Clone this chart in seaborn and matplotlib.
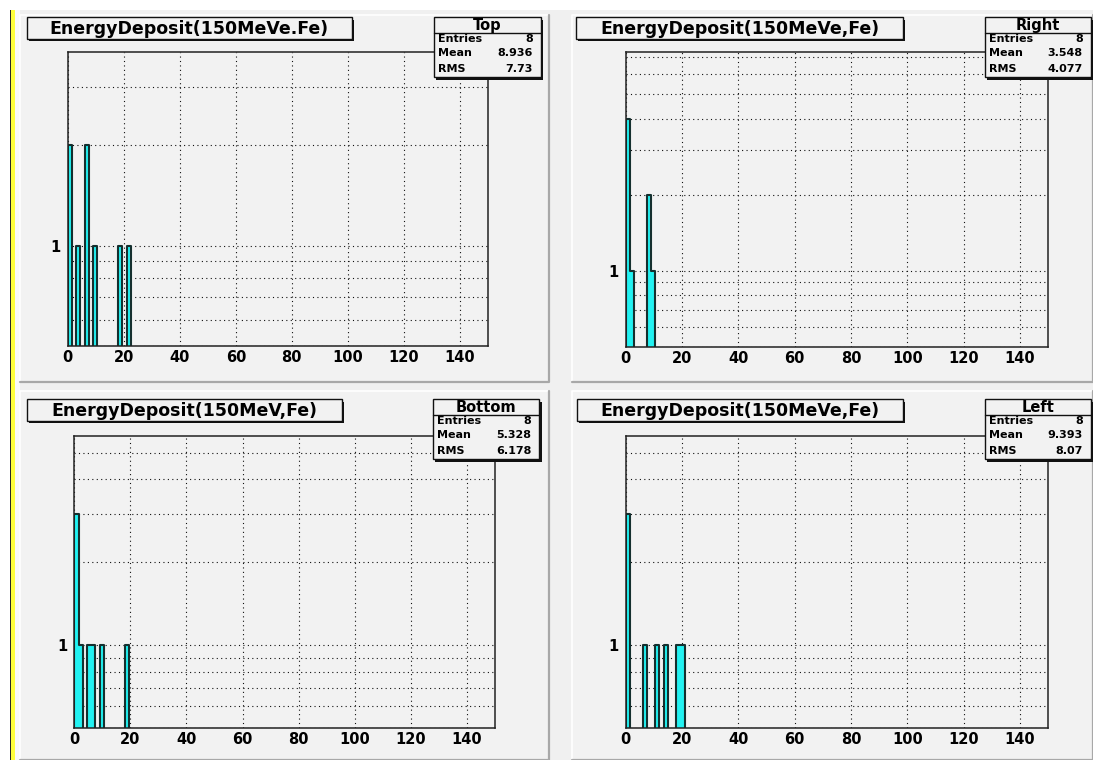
import numpy as np
import pandas as pd
import matplotlib
matplotlib.use("Agg")
import matplotlib.pyplot as plt
import seaborn as sns
from matplotlib import transforms as mtrans
from matplotlib.patches import Rectangle
from matplotlib.lines import Line2D
from matplotlib.ticker import MultipleLocator, FixedLocator, LogLocator, NullFormatter, FixedFormatter

# ---- histogram contents: bin centres (MeV) and entries per bin ----
top_centers = [0.75, 3.75, 6.75, 9.75, 18.75, 21.75]
top_counts = [2, 1, 2, 1, 1, 1]
right_centers = [0.75, 2.25, 8.25, 9.75]
right_counts = [4, 1, 2, 1]
bottom_centers = [0.75, 2.25, 5.25, 6.75, 9.75, 18.75]
bottom_counts = [3, 1, 1, 1, 1, 1]
left_centers = [0.75, 6.75, 11.25, 14.25, 18.75, 20.25]
left_counts = [3, 1, 1, 1, 1, 1]

titles = ["EnergyDeposit(150MeVe.Fe)", "EnergyDeposit(150MeVe,Fe)",
          "EnergyDeposit(150MeV,Fe)", "EnergyDeposit(150MeVe,Fe)"]
stat_names = ["Top", "Right", "Bottom", "Left"]
stat_entries = ["8", "8", "8", "8"]
stat_means = ["8.936", "3.548", "5.328", "9.393"]
stat_rms = ["7.73", "4.077", "6.178", "8.07"]
x_ticks = [0, 20, 40, 60, 80, 100, 120, 140]
x_tick_labels = ["0", "20", "40", "60", "80", "100", "120", "140"]

series = [(top_centers, top_counts), (right_centers, right_counts),
          (bottom_centers, bottom_counts), (left_centers, left_counts)]

# ---- pad geometry in canvas pixels (x0, x1, y0, y1), y measured downwards ----
frames = [(67.7, 488, 52, 346), (625.7, 1048, 52.3, 346.7),
          (74.3, 495, 435.7, 727.7), (625.7, 1048, 435.7, 728)]
y_tops = [3.81, 7.33, 5.77, 5.77]
title_boxes = [(26.7, 352, 17.3, 39), (576, 903, 17.3, 39),
               (26.7, 342, 399.3, 420.7), (577, 903, 399.3, 420.7)]
stat_boxes = [(434, 540.7, 17.3, 77.3), (985, 1090.7, 17.3, 77.3),
              (433, 539.3, 399.3, 459.3), (985, 1090.7, 399.3, 459.3)]
pads = [(20, 549, 15, 382), (572, 1093, 15, 382),
        (20, 549, 391, 760), (572, 1093, 391, 760)]

W, H = 1093, 760
CANVAS = "#f0f0f0"
PAD = "#f2f2f2"
CYAN = "#22f2f2"
EDGE = "#15302f"

sns.set_theme(style="white")
plt.rcParams["font.family"] = ["DejaVu Sans"]
plt.rcParams["font.weight"] = "bold"
plt.rcParams["text.color"] = "black"

fig = plt.figure(figsize=(W / 100, H / 100), dpi=100)
fig.patch.set_facecolor("white")
PX = mtrans.Affine2D().scale(0.01, -0.01).translate(0, H / 100) + fig.dpi_scale_trans


def rect(x0, x1, y0, y1, z, **kw):
    r = Rectangle((x0, y0), x1 - x0, y1 - y0, transform=PX, zorder=z, **kw)
    fig.patches.append(r)
    return r


def line(xs, ys, z, **kw):
    ln = Line2D(xs, ys, transform=PX, zorder=z, **kw)
    fig.lines.append(ln)


# canvas background, window edge stripe
rect(15, W, 10, H, -10, facecolor=CANVAS, edgecolor="none")
rect(15, 20, 10, H, -9.5, facecolor="#fafafa", edgecolor="none")
rect(9.5, 11.2, 10, H, -9, facecolor="#2a2a2a", edgecolor="none")
rect(11.2, 15, 10, H, -9, facecolor="#ffff3c", edgecolor="none")

# pads with bevelled border
for (x0, x1, y0, y1) in pads:
    rect(x0, x1, y0, y1, -8, facecolor=PAD, edgecolor="none")
    line([x0, x0, x1], [y1, y0, y0], -7.5, color="white", lw=1.2)
    line([x0, x1, x1], [y1, y1, y0], -7.5, color="#a8a8a8", lw=1.6)

for i, (cx, cnt) in enumerate(series):
    x0, x1, y0, y1 = frames[i]
    ax = fig.add_axes([x0 / W, (H - y1) / H, (x1 - x0) / W, (y1 - y0) / H])
    ax.set_facecolor("none")
    ax.set_yscale("log")
    df = pd.DataFrame({"edep": cx, "n": cnt})
    sns.histplot(data=df, x="edep", weights="n", binwidth=1.5, binrange=(0, 150),
                 element="step", fill=True, facecolor=CYAN, edgecolor=EDGE,
                 linewidth=1.5, alpha=1, ax=ax)
    ax.set_xlim(0, 150)
    ax.set_ylim(0.5, y_tops[i])
    ax.set_xlabel("")
    ax.set_ylabel("")
    ax.set_axisbelow(True)

    ax.xaxis.set_major_locator(FixedLocator(x_ticks))
    ax.xaxis.set_major_formatter(FixedFormatter(x_tick_labels))
    ax.xaxis.set_minor_locator(MultipleLocator(5))
    ax.yaxis.set_major_locator(FixedLocator([1]))
    ax.yaxis.set_major_formatter(FixedFormatter(["1"]))
    ax.yaxis.set_minor_locator(LogLocator(base=10, subs=np.arange(2, 10) / 1.0))
    ax.yaxis.set_minor_formatter(NullFormatter())

    ax.tick_params(axis="both", which="both", direction="in", top=False, right=False,
                   colors="black", labelsize=10.5)
    ax.tick_params(axis="x", which="major", length=8, width=1, pad=3)
    ax.tick_params(axis="x", which="minor", length=4, width=1)
    ax.tick_params(axis="y", which="major", length=8, width=1, pad=5)
    ax.tick_params(axis="y", which="minor", length=5, width=1)
    for lab in ax.get_xticklabels() + ax.get_yticklabels():
        lab.set_fontweight("bold")

    ax.grid(True, axis="x", which="major", color="#111111", lw=0.8, ls=(0, (1, 3)))
    ax.grid(True, axis="y", which="both", color="#111111", lw=0.8, ls=(0, (1, 3)))
    for sp in ax.spines.values():
        sp.set_color("#222222")
        sp.set_linewidth(1.1)
        sp.set_visible(True)

    # title box with drop shadow
    tx0, tx1, ty0, ty1 = title_boxes[i]
    rect(tx0 + 2.2, tx1 + 2.2, ty0 + 2.2, ty1 + 2.2, 5, facecolor="#111111", edgecolor="none")
    rect(tx0, tx1, ty0, ty1, 5.1, facecolor=PAD, edgecolor="#111111", linewidth=1.0)
    fig.text((tx0 + tx1) / 2 / W, (H - (ty0 + ty1) / 2 - 0.5) / H, titles[i],
             ha="center", va="center", fontsize=12.5, fontweight="bold",
             color="black", zorder=6)

    # statistics box with drop shadow
    sx0, sx1, sy0, sy1 = stat_boxes[i]
    rect(sx0 + 2.2, sx1 + 2.2, sy0 + 2.2, sy1 + 2.2, 5, facecolor="#111111", edgecolor="none")
    rect(sx0, sx1, sy0, sy1, 5.1, facecolor=PAD, edgecolor="#111111", linewidth=1.0)
    line([sx0, sx1], [sy0 + 16, sy0 + 16], 5.2, color="#111111", lw=1.0)
    fig.text((sx0 + sx1) / 2 / W, (H - sy0 - 8) / H, stat_names[i],
             ha="center", va="center", fontsize=10.5, fontweight="bold",
             color="black", zorder=6)
    rows = [("Entries", stat_entries[i]), ("Mean", stat_means[i]), ("RMS", stat_rms[i])]
    for k, (name, val) in enumerate(rows):
        yy = sy0 + 21.2 + 15 * k
        fig.text((sx0 + 4) / W, (H - yy) / H, name, ha="left", va="center",
                 fontsize=8, fontweight="bold", color="black", zorder=6)
        fig.text((sx1 - 8) / W, (H - yy) / H, val, ha="right", va="center",
                 fontsize=8, fontweight="bold", color="black", zorder=6)

fig.savefig("out.png", dpi=100)
